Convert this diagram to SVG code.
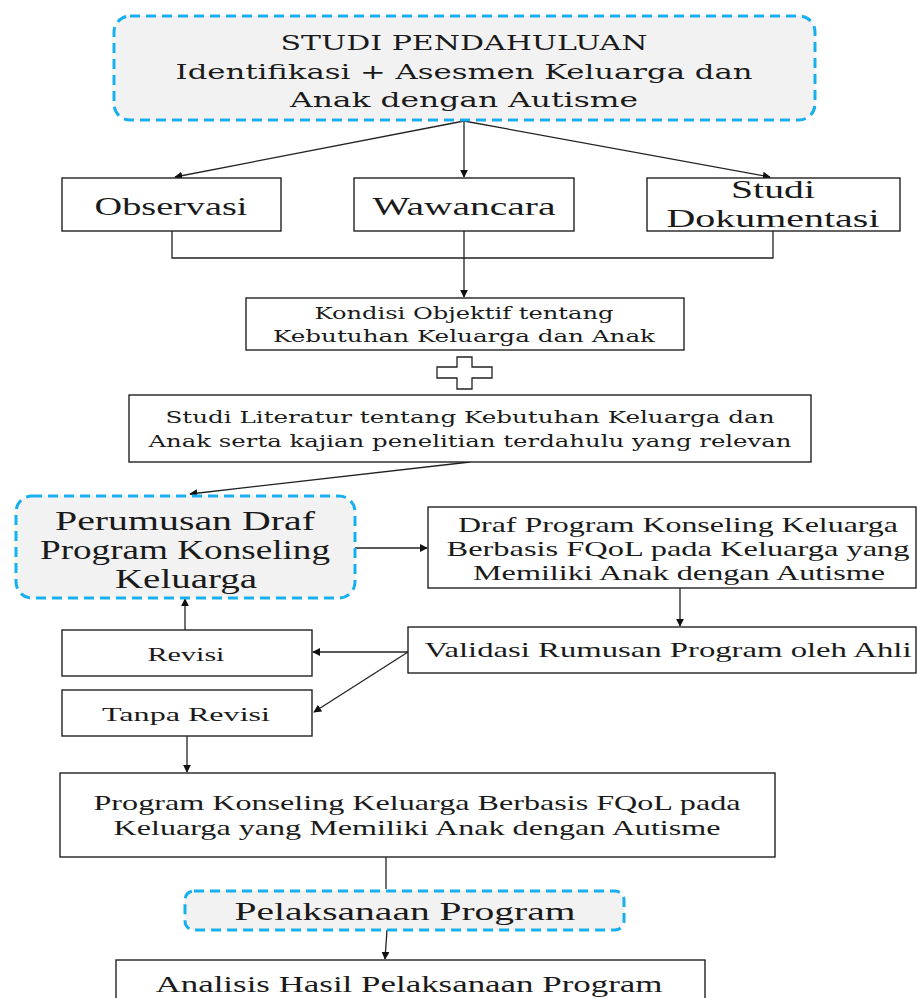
<svg xmlns="http://www.w3.org/2000/svg" width="917" height="998" viewBox="0 0 917 998">
<defs>
<style>
.box{fill:#fff;stroke:#222;stroke-width:1.4}
.dash{fill:#f2f2f2;stroke:#17b0ee;stroke-width:3;stroke-dasharray:10 6}
.bk{font-family:"DejaVu Serif","Liberation Serif",serif;fill:#1a1a1a;text-anchor:middle}
.nr{font-family:"Liberation Serif","DejaVu Serif",serif;fill:#1a1a1a;text-anchor:middle}
.ln{fill:none;stroke:#222;stroke-width:1.3}
</style>
<marker id="ah" viewBox="0 0 10 10" refX="9" refY="5" markerWidth="8" markerHeight="8" markerUnits="userSpaceOnUse" orient="auto">
<path d="M0,0 L10,5 L0,10 z" fill="#111"/>
</marker>
</defs>
<rect width="917" height="998" fill="#fff"/>

<g id="connectors">
<line class="ln" x1="464" y1="121" x2="175" y2="177" marker-end="url(#ah)"/>
<line class="ln" x1="464" y1="121" x2="464" y2="177" marker-end="url(#ah)"/>
<line class="ln" x1="464" y1="121" x2="770" y2="177" marker-end="url(#ah)"/>
<polyline class="ln" points="172,231 172,258 773,258 773,231"/>
<line class="ln" x1="464" y1="231" x2="464" y2="297" marker-end="url(#ah)"/>
<line class="ln" x1="470" y1="462" x2="190" y2="494" marker-end="url(#ah)"/>
<line class="ln" x1="355" y1="548" x2="427" y2="548" marker-end="url(#ah)"/>
<line class="ln" x1="680" y1="588" x2="680" y2="626" marker-end="url(#ah)"/>
<line class="ln" x1="408" y1="652" x2="313" y2="652" marker-end="url(#ah)"/>
<line class="ln" x1="408" y1="652" x2="314" y2="712" marker-end="url(#ah)"/>
<line class="ln" x1="185" y1="630" x2="185" y2="599" marker-end="url(#ah)"/>
<line class="ln" x1="187" y1="736" x2="187" y2="772" marker-end="url(#ah)"/>
<line class="ln" x1="386" y1="857" x2="386" y2="889"/>
<line class="ln" x1="387" y1="930" x2="385" y2="959" marker-end="url(#ah)"/>
</g>

<g id="studi-pendahuluan">
<rect class="dash" x="114" y="16" width="701" height="104" rx="16"/>
<text class="bk" x="464" y="50" font-size="21" textLength="367" lengthAdjust="spacingAndGlyphs">STUDI PENDAHULUAN</text>
<text class="bk" x="464" y="79" font-size="21" textLength="577" lengthAdjust="spacingAndGlyphs">Identifikasi + Asesmen Keluarga dan</text>
<text class="bk" x="464" y="107" font-size="21" textLength="348" lengthAdjust="spacingAndGlyphs">Anak dengan Autisme</text>
</g>

<g id="observasi">
<rect class="box" x="62" y="178" width="219" height="53"/>
<text class="nr" x="171" y="215" font-size="26" textLength="153" lengthAdjust="spacingAndGlyphs">Observasi</text>
</g>

<g id="wawancara">
<rect class="box" x="354" y="178" width="220" height="53"/>
<text class="nr" x="464" y="215" font-size="26" textLength="183" lengthAdjust="spacingAndGlyphs">Wawancara</text>
</g>

<g id="studi-dokumentasi">
<rect class="box" x="647" y="178" width="253" height="53"/>
<text class="nr" x="773" y="198" font-size="26" textLength="84" lengthAdjust="spacingAndGlyphs">Studi</text>
<text class="nr" x="773" y="227" font-size="26" textLength="213" lengthAdjust="spacingAndGlyphs">Dokumentasi</text>
</g>

<g id="kondisi">
<rect class="box" x="246" y="298" width="438" height="52"/>
<text class="bk" x="464" y="319" font-size="17" textLength="299" lengthAdjust="spacingAndGlyphs">Kondisi Objektif tentang</text>
<text class="bk" x="464" y="342" font-size="17" textLength="382" lengthAdjust="spacingAndGlyphs">Kebutuhan Keluarga dan Anak</text>
</g>

<g id="plus">
<path d="M457,357 H472 V367 H492 V378 H472 V389 H457 V378 H437 V367 H457 Z" fill="#fff" stroke="#222" stroke-width="1.3"/>
</g>

<g id="studi-literatur">
<rect class="box" x="129" y="395" width="682" height="67"/>
<text class="bk" x="470" y="423" font-size="17" textLength="609" lengthAdjust="spacingAndGlyphs">Studi Literatur tentang Kebutuhan Keluarga dan</text>
<text class="bk" x="470" y="447" font-size="17" textLength="643" lengthAdjust="spacingAndGlyphs">Anak serta kajian penelitian terdahulu yang relevan</text>
</g>

<g id="perumusan">
<rect class="dash" x="16" y="496" width="339" height="102" rx="16"/>
<text class="nr" x="185" y="530" font-size="27" textLength="260" lengthAdjust="spacingAndGlyphs">Perumusan Draf</text>
<text class="nr" x="185" y="559" font-size="27" textLength="290" lengthAdjust="spacingAndGlyphs">Program Konseling</text>
<text class="nr" x="186" y="588" font-size="27" textLength="142" lengthAdjust="spacingAndGlyphs">Keluarga</text>
</g>

<g id="draf">
<rect class="box" x="428" y="507" width="488" height="81"/>
<text class="nr" x="678" y="532" font-size="21.5" textLength="440" lengthAdjust="spacingAndGlyphs">Draf Program Konseling Keluarga</text>
<text class="nr" x="678" y="556" font-size="21.5" textLength="463" lengthAdjust="spacingAndGlyphs">Berbasis FQoL pada Keluarga yang</text>
<text class="nr" x="679" y="580" font-size="21.5" textLength="412" lengthAdjust="spacingAndGlyphs">Memiliki Anak dengan Autisme</text>
</g>

<g id="validasi">
<rect class="box" x="408" y="627" width="508" height="46"/>
<text class="nr" x="668" y="657" font-size="22" textLength="487" lengthAdjust="spacingAndGlyphs">Validasi Rumusan Program oleh Ahli</text>
</g>

<g id="revisi">
<rect class="box" x="62" y="630" width="250" height="46"/>
<text class="nr" x="186" y="661" font-size="19.5" textLength="77" lengthAdjust="spacingAndGlyphs">Revisi</text>
</g>

<g id="tanpa-revisi">
<rect class="box" x="62" y="690" width="250" height="46"/>
<text class="nr" x="186" y="721" font-size="19.5" textLength="168" lengthAdjust="spacingAndGlyphs">Tanpa Revisi</text>
</g>

<g id="program">
<rect class="box" x="60" y="773" width="715" height="84"/>
<text class="nr" x="417" y="810" font-size="22" textLength="647" lengthAdjust="spacingAndGlyphs">Program Konseling Keluarga Berbasis FQoL pada</text>
<text class="nr" x="417" y="835" font-size="22" textLength="607" lengthAdjust="spacingAndGlyphs">Keluarga yang Memiliki Anak dengan Autisme</text>
</g>

<g id="pelaksanaan">
<rect class="dash" x="185" y="891" width="439" height="39" rx="9"/>
<text class="nr" x="405" y="920" font-size="26" textLength="341" lengthAdjust="spacingAndGlyphs">Pelaksanaan Program</text>
</g>

<g id="analisis">
<rect class="box" x="116" y="960" width="589" height="45"/>
<text class="nr" x="409" y="992" font-size="24" textLength="507" lengthAdjust="spacingAndGlyphs">Analisis Hasil Pelaksanaan Program</text>
</g>
</svg>
